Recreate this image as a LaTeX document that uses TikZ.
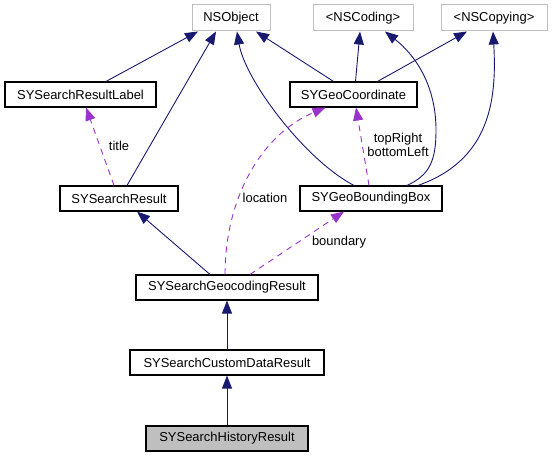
\documentclass[tikz,border=0pt]{standalone}
\usepackage{fontspec}
\setmainfont{Liberation Sans}
\usetikzlibrary{arrows.meta}
\definecolor{edgeblue}{HTML}{191970}
\definecolor{usepurple}{HTML}{9A32CD}
\definecolor{extgrey}{HTML}{BFBFBF}
\begin{document}
\begin{tikzpicture}[x=1bp, y=-1bp,
	cls/.style={draw=black, line width=1.1bp, fill=white, minimum height=25bp, inner xsep=2bp},
	ext/.style={draw=extgrey, line width=1bp, fill=white, minimum height=26bp, inner xsep=2bp},
	inh/.style={draw=edgeblue, line width=0.9bp, -{Triangle[length=13bp, width=10bp]}},
	usage/.style={draw=usepurple, line width=0.9bp, dash pattern=on 6bp off 5bp, -{Triangle[length=13bp, width=10bp]}},
	lbl/.style={inner sep=0pt, align=center}]
	\tikzstyle{every node}=[font=\fontsize{13}{14}\selectfont]
	\useasboundingbox (0,0) rectangle (552,459);
	% top row
	\node[ext, minimum width=78bp] (NSObject) at (231, 18) {NSObject};
	\node[ext, minimum width=100bp] (NSCoding) at (363, 18) {<NSCoding>};
	\node[ext, minimum width=106bp] (NSCopying) at (494, 18) {<NSCopying>};
	% classes
	\node[cls, minimum width=151bp] (ResultLabel) at (80.5, 94.5) {SYSearchResultLabel};
	\node[cls, minimum width=127bp] (GeoCoordinate) at (353.5, 94.5) {SYGeoCoordinate};
	\node[cls, minimum width=118bp] (SearchResult) at (119, 198.5) {SYSearchResult};
	\node[cls, minimum width=142bp] (BoundingBox) at (371, 198.5) {SYGeoBoundingBox};
	\node[cls, minimum width=182bp] (GeocodingResult) at (227, 287.5) {SYSearchGeocodingResult};
	\node[cls, minimum width=194bp] (CustomDataResult) at (227, 362.5) {SYSearchCustomDataResult};
	\node[cls, fill=extgrey, minimum width=162bp] (HistoryResult) at (227, 438.5) {SYSearchHistoryResult};
	% inheritance
	\draw[inh] ([xshift=25.5bp]ResultLabel.north) -- ([xshift=-33bp]NSObject.south);
	\draw[inh] ([xshift=8bp]SearchResult.north) -- ([xshift=-15bp]NSObject.south);
	\draw[inh] ([xshift=-17bp]BoundingBox.north) .. controls (305,160) and (245,80) .. ([xshift=6bp]NSObject.south);
	\draw[inh] ([xshift=-20bp]GeoCoordinate.north) -- ([xshift=25bp]NSObject.south);
	\draw[inh] ([xshift=2bp]GeoCoordinate.north) -- ([xshift=-3bp]NSCoding.south);
	\draw[inh] ([xshift=24bp]GeoCoordinate.north) -- ([xshift=-27bp]NSCopying.south);
	\draw[inh] ([xshift=36bp]BoundingBox.north) .. controls (430,175) and (436,160) .. (436,130) .. controls (436,85) and (415,55) .. ([xshift=22bp]NSCoding.south);
	\draw[inh] ([xshift=47bp]BoundingBox.north) .. controls (490,160) and (497,100) .. ([xshift=-1bp]NSCopying.south);
	\draw[inh] ([xshift=-17bp]GeocodingResult.north) -- ([xshift=18bp]SearchResult.south);
	\draw[inh] (CustomDataResult.north) -- (GeocodingResult.south);
	\draw[inh] (HistoryResult.north) -- (CustomDataResult.south);
	% usage
	\draw[usage] ([xshift=-5bp]SearchResult.north) -- ([xshift=5.5bp]ResultLabel.south);
	\draw[usage] ([xshift=-2bp]BoundingBox.north) -- ([xshift=2.5bp]GeoCoordinate.south);
	\draw[usage] ([xshift=-2bp]GeocodingResult.north) .. controls (225,200) and (260,135) .. ([xshift=-28bp]GeoCoordinate.south);
	\draw[usage] ([xshift=23bp]GeocodingResult.north) -- ([xshift=-27bp]BoundingBox.south);
	\node[lbl] (title) at (119, 146) {title};
	\node[lbl] (location) at (265, 198) {location};
	\node[lbl] (corners) at (398, 145) {topRight\\bottomLeft};
	\node[lbl] (boundary) at (339, 242) {boundary};
\end{tikzpicture}
\end{document}
